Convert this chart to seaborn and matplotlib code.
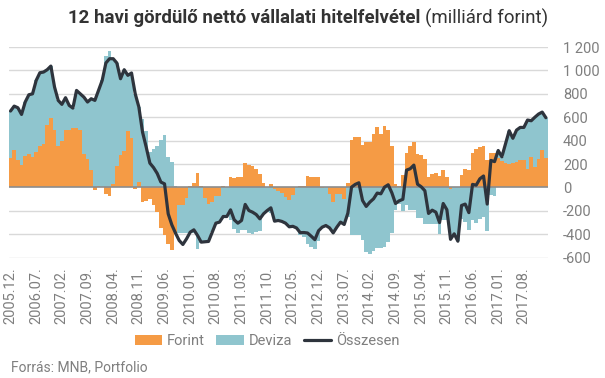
import numpy as np
import pandas as pd
import matplotlib
matplotlib.use("Agg")
import matplotlib.pyplot as plt
import seaborn as sns
from matplotlib.patches import Patch
from matplotlib.lines import Line2D

# ---------------- data (milliárd forint) ----------------
months = pd.period_range("2005-12", "2018-02", freq="M").strftime("%Y.%m.").tolist()

forint = [251, 316, 237, 188, 265, 288, 259, 302, 350, 373,
          530, 596, 493, 350, 393, 493, 493, 510, 510, 487,
          288, 239, 151, -23, 14, 0, -57, -74, 26, 180,
          274, 308, 479, 422, -14, 46, -125, -117, -97, -150,
          -208, -348, -410, -481, -533, -396, -148, -154, -91, 11,
          37, 123, 11, -91, -140, -123, -71, -71, 11, 0,
          88, 83, 88, 88, 208, 194, 180, 157, 111, 37,
          3, 26, -17, -31, -48, -83, -103, -68, 0, 14,
          14, 94, 88, 88, 88, -5, 0, -54, -125, -60,
          -60, -100, 35, 405, 430, 430, 359, 385, 388, 459,
          513, 459, 522, 490, 351, 31, 11, 103, 291, 351,
          385, 288, 274, 242, 88, 111, 123, 94, 145, 88,
          -17, 0, 0, 103, 154, 145, 294, 330, 345, 351,
          231, 294, 294, 250, 224, 210, 198, 212, 216, 234,
          237, 160, 260, 177, 245, 319, 256]

deviza = [402, 379, 444, 436, 465, 504, 541, 613, 630, 613,
          476, 441, 365, 394, 317, 274, 208, 168, 319, 313,
          484, 491, 607, 767, 815, 915, 1120, 1165, 1074, 883,
          655, 698, 479, 556, 800, 641, 587, 480, 305, 325,
          350, 402, 444, 259, 214, 9, -242, -236, -299, -390,
          -390, -527, -478, -373, -321, -259, -234, -225, -259, -248,
          -279, -359, -393, -365, -360, -385, -395, -380, -375, -215,
          -210, -215, -271, -251, -242, -222, -233, -264, -346, -410,
          -420, -480, -505, -525, -460, -334, -325, -291, -263, -279,
          -236, -216, -254, -405, -405, -405, -447, -553, -567, -539,
          -519, -519, -510, -467, -390, -190, -140, -200, -154, -191,
          -191, -259, -259, -311, -311, -311, -311, -396, -276, -282,
          -426, -396, -459, -268, -296, -362, -282, -305, -271, -253,
          -373, -63, -73, 62, 38, 163, 287, 208, 274, 279,
          276, 416, 310, 423, 382, 325, 340]

osszesen = [653, 695, 681, 624, 730, 792, 800, 915, 980, 986,
            1006, 1037, 858, 744, 710, 767, 701, 678, 829, 800,
            772, 730, 758, 744, 829, 915, 1063, 1100, 1100, 1063,
            929, 1006, 958, 978, 801, 687, 473, 345, 208, 170,
            120, 46, 31, -225, -320, -390, -453, -487, -439, -382,
            -362, -410, -467, -464, -461, -382, -305, -296, -248, -248,
            -191, -276, -305, -282, -145, -197, -211, -231, -268, -225,
            -197, -174, -288, -282, -290, -305, -336, -332, -346, -386,
            -385, -389, -416, -446, -370, -339, -325, -345, -388, -339,
            -296, -316, -219, 3, 26, 40, -111, -162, -125, -97,
            -48, -54, 3, 23, -46, -137, -114, -101, 148, 160,
            191, 28, 6, -28, -222, -194, -211, -300, -137, -190,
            -443, -396, -459, -154, -142, -215, 26, 20, 74, 98,
            -142, 231, 221, 316, 262, 373, 485, 420, 490, 513,
            513, 576, 570, 600, 627, 644, 596]

tick_labels = ["2005.12.", "2006.07.", "2007.02.", "2007.09.", "2008.04.",
               "2008.11.", "2009.06.", "2010.01.", "2010.08.", "2011.03.",
               "2011.10.", "2012.05.", "2012.12.", "2013.07.", "2014.02.",
               "2014.09.", "2015.04.", "2015.11.", "2016.06.", "2017.01.",
               "2017.08."]

y_ticks = [-600, -400, -200, 0, 200, 400, 600, 800, 1000, 1200]

# ---------------- style ----------------
sns.set_theme(style="white")
plt.rcParams["font.family"] = ["Roboto", "DejaVu Sans"]

C_FORINT = "#F59B45"
C_DEVIZA = "#8FC5CE"
C_LINE = "#2E343D"
C_TEXT = "#7F7F7F"
C_GRID = "#D9D9D9"

df = pd.DataFrame({"honap": months, "Forint": forint, "Deviza": deviza,
                   "Összesen": osszesen})
df["pos"] = np.arange(len(df))

fig = plt.figure(figsize=(6.05, 3.78), dpi=100)
W, H = 605, 378
ax = fig.add_axes([8.7 / W, 1 - 257.7 / H, 539 / W, (257.7 - 47) / H])

f = df["Forint"].to_numpy(float)
d = df["Deviza"].to_numpy(float)
dev_bottom = np.where((np.sign(d) == np.sign(f)) & (f != 0), f, 0.0)

ax.bar(df["pos"], f, width=1.03, color=C_FORINT, linewidth=0, zorder=2)
ax.bar(df["pos"], d, bottom=dev_bottom, width=1.03, color=C_DEVIZA,
       linewidth=0, zorder=2)

for yt in y_ticks:
    if yt != 0:
        ax.axhline(yt, color=C_GRID, lw=1.0, zorder=1)
ax.axhline(0, color="#8C8C8C", lw=1.2, zorder=3)

sns.lineplot(data=df, x="pos", y="Összesen", ax=ax, color=C_LINE,
             linewidth=2.3, zorder=4, legend=False)

ax.set_xlim(-0.5, len(df) - 0.5)
ax.set_ylim(-600, 1200)
ax.set_xlabel("")
ax.set_ylabel("")
for s in ax.spines.values():
    s.set_visible(False)

ax.set_xticks(np.arange(0, len(df), 7))
ax.set_xticklabels(tick_labels, rotation=90, color=C_TEXT, fontsize=10.5)
ax.tick_params(axis="x", length=0, pad=7)

ax.yaxis.tick_right()
ax.set_yticks(y_ticks)
ax.set_yticklabels([f"{v:,}".replace(",", " ") for v in y_ticks],
                   color=C_TEXT, fontsize=10.5)
ax.tick_params(axis="y", length=0, pad=11)
ax.grid(False)

# title: bold part + regular part
ty = 1 - 18 / H
t1 = fig.text(0, ty, "12 havi gördülő nettó vállalati hitelfelvétel",
              fontsize=13.4, fontweight="bold", color="#333333", va="center")
t2 = fig.text(0, ty, "(milliárd forint)", fontsize=13.4, color="#333333",
              va="center")
fig.canvas.draw()
r = fig.canvas.get_renderer()
w1 = t1.get_window_extent(r).width
w2 = t2.get_window_extent(r).width
gap = 4
x0 = 308 - (w1 + gap + w2) / 2
t1.set_x(x0 / W)
t2.set_x((x0 + w1 + gap) / W)

handles = [Patch(facecolor=C_FORINT, edgecolor="none"),
           Patch(facecolor=C_DEVIZA, edgecolor="none"),
           Line2D([0], [0], color=C_LINE, lw=2.3)]
leg = fig.legend(handles, ["Forint", "Deviza", "Összesen"], loc="center",
                 bbox_to_anchor=(267 / W, 1 - 341 / H), ncol=3, frameon=False,
                 fontsize=10.5, handlelength=1.9, handleheight=0.7,
                 handletextpad=0.3, columnspacing=0.8)
for t in leg.get_texts():
    t.set_color(C_TEXT)

fig.text(11 / W, 1 - 367 / H, "Forrás: MNB, Portfolio", fontsize=10,
         color=C_TEXT, va="center")

fig.savefig("out.png", dpi=100)
